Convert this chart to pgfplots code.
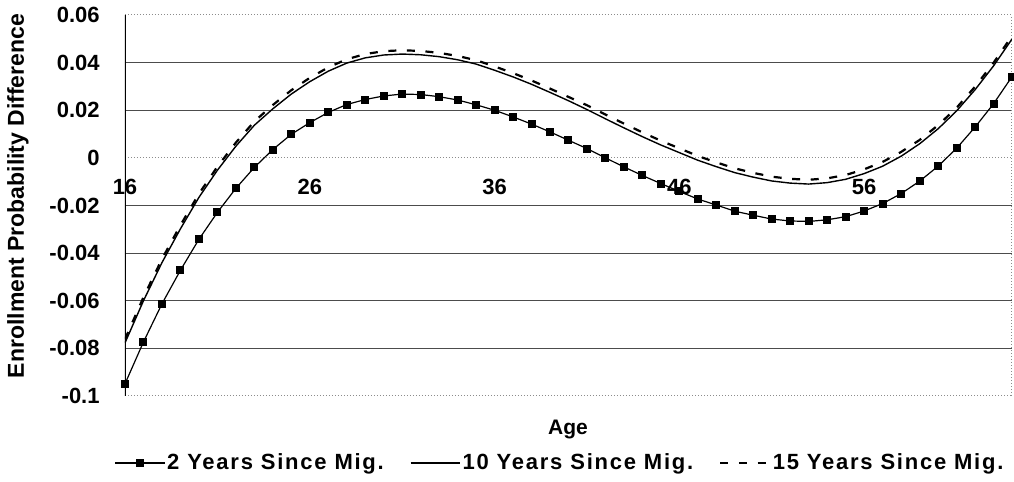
\documentclass[border=0pt]{standalone}
\usepackage{fontspec}
\setmainfont{Liberation Sans}
\newfontfamily\legfont[LetterSpace=8]{Liberation Sans}
\usepackage{pgfplots}
\pgfplotsset{compat=1.18}
\usepackage{pgfplotstable}

\pgfplotstableread{
age two ten fifteen
16 -0.0949 -0.0777 -0.0762
17 -0.0773 -0.0600 -0.0585
18 -0.0613 -0.0440 -0.0425
19 -0.0472 -0.0298 -0.0283
20 -0.0342 -0.0166 -0.0151
21 -0.0229 -0.0052 -0.0037
22 -0.0128 0.0049 0.0064
23 -0.0040 0.0137 0.0153
24 0.0035 0.0206 0.0222
25 0.0099 0.0268 0.0284
26 0.0148 0.0320 0.0336
27 0.0191 0.0364 0.0380
28 0.0224 0.0398 0.0414
29 0.0245 0.0420 0.0436
30 0.0260 0.0432 0.0448
31 0.0268 0.0436 0.0452
32 0.0266 0.0433 0.0449
33 0.0257 0.0425 0.0441
34 0.0243 0.0412 0.0428
35 0.0223 0.0394 0.0410
36 0.0200 0.0368 0.0384
37 0.0172 0.0340 0.0356
38 0.0142 0.0309 0.0325
39 0.0109 0.0275 0.0291
40 0.0074 0.0240 0.0256
41 0.0039 0.0203 0.0221
42 0.0000 0.0164 0.0182
43 -0.0038 0.0126 0.0144
44 -0.0074 0.0089 0.0107
45 -0.0108 0.0054 0.0072
46 -0.0141 0.0022 0.0040
47 -0.0173 -0.0010 0.0008
48 -0.0198 -0.0037 -0.0019
49 -0.0224 -0.0062 -0.0044
50 -0.0241 -0.0081 -0.0063
51 -0.0257 -0.0097 -0.0079
52 -0.0265 -0.0106 -0.0088
53 -0.0267 -0.0110 -0.0092
54 -0.0260 -0.0104 -0.0086
55 -0.0247 -0.0090 -0.0072
56 -0.0223 -0.0066 -0.0048
57 -0.0192 -0.0035 -0.0017
58 -0.0150 0.0007 0.0025
59 -0.0098 0.0059 0.0075
60 -0.0035 0.0122 0.0137
61 0.0040 0.0197 0.0210
62 0.0129 0.0286 0.0299
63 0.0227 0.0386 0.0399
64 0.0341 0.0499 0.0512
}\datatable

\begin{document}
\begin{tikzpicture}
\path[use as bounding box] (-62.5pt,-43pt) rectangle (444.5pt,198pt);
\begin{axis}[
  scale only axis, width=443.5pt, height=190.5pt,
  xmin=16, xmax=64, ymin=-0.1, ymax=0.06,
  axis line style={draw=none},
  tick style={draw=none},
  /pgf/number format/assume math mode=true,
  xtick={16,26,36,46,56},
  xticklabel style={anchor=center, inner sep=0pt, yshift=104.5pt, font=\fontsize{11}{12}\selectfont\bfseries},
  ytick={-0.08,-0.06,-0.04,-0.02,0.02,0.04},
  extra y ticks={-0.1,0,0.06},
  extra y tick style={major grid style={densely dotted, black!45, line width=0.5pt}},
  ymajorgrids,
  major grid style={black!70, line width=0.5pt},
  yticklabel style={inner sep=0pt, xshift=-12.5pt, font=\fontsize{11}{12}\selectfont\bfseries,
    /pgf/number format/fixed, /pgf/number format/precision=2},
  xlabel={Age},
  xlabel style={at={(axis description cs:0.4994,-0.0892)}, anchor=center, inner sep=0pt, font=\fontsize{10.5}{12}\selectfont\bfseries},
  ylabel={Enrollment Probability Difference},
  ylabel style={at={(axis description cs:-0.1206,0.525)}, anchor=center, inner sep=0pt, font=\fontsize{11.5}{12}\selectfont\bfseries},
  legend columns=3,
  legend style={at={(axis description cs:-0.01173,-0.1759)}, anchor=west, draw=none, fill=none,
    inner sep=0pt, outer sep=0pt, nodes={inner sep=1pt},
    font=\legfont\fontsize{11}{13}\selectfont\bfseries,
    /tikz/every even column/.append style={column sep=12pt}},
  legend image code/.code={\draw[mark repeat=2, mark phase=2, #1] plot coordinates {(0pt,0pt) (12.35pt,0pt) (24.7pt,0pt)};},
]
\addplot[black, line width=0.6pt, mark=square*, mark size=1.7pt, mark options={solid, fill=black}] table[x=age, y=two] {\datatable};
\addlegendentry{2 Years Since Mig.}
\addplot[black, line width=0.7pt] table[x=age, y=ten] {\datatable};
\addlegendentry{10 Years Since Mig.}
\addplot[black, line width=1.1pt, dash pattern=on 4pt off 5.3pt] table[x=age, y=fifteen] {\datatable};
\addlegendentry{15 Years Since Mig.}
\draw[black, line width=0.6pt] (rel axis cs:0,0) -- (rel axis cs:0,1);
\draw[densely dotted, black!45, line width=0.5pt] (rel axis cs:1,0) -- (rel axis cs:1,1);
\end{axis}
\end{tikzpicture}
\end{document}
